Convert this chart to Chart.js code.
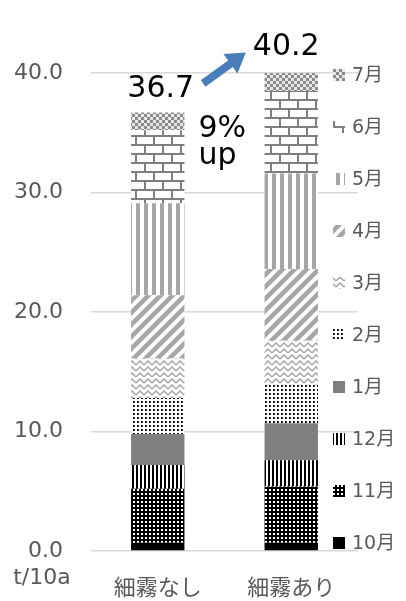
<!DOCTYPE html>
<html>
<head>
<meta charset="utf-8">
<script src="https://cdn.jsdelivr.net/npm/chart.js@4/dist/chart.umd.min.js"></script>
<style>
  html, body { margin: 0; padding: 0; background: #ffffff; }
  canvas { display: block; }
</style>
</head>
<body>
<canvas id="c" width="406" height="601"></canvas>
<script>
// Yield per month (t/10a), without / with fine mist
const categories = ['細霧なし', '細霧あり'];
const months = ['10月', '11月', '12月', '1月', '2月', '3月', '4月', '5月', '6月', '7月'];
const oct = [0.7, 0.7];
const nov = [4.5, 4.7];
const dec = [2.0, 2.2];
const jan = [2.6, 3.1];
const feb = [3.0, 3.2];
const mar = [3.3, 3.7];
const apr = [5.3, 6.0];
const may = [7.7, 8.0];
const jun = [6.1, 6.9];
const jul = [1.5, 1.7];
const yTicks = [0, 10, 20, 30, 40];
const unitLabel = 't/10a';
const gainText = ['9%', 'up'];

const series = [oct, nov, dec, jan, feb, mar, apr, may, jun, jul];

const FONT = "'DejaVu Sans', 'Noto Sans CJK JP', sans-serif";
const TEXT_GREY = '#595959';

const canvas = document.getElementById('c');
const ctx = canvas.getContext('2d');

// ---- fill patterns ----
function tile(w, h, draw) {
  const c = document.createElement('canvas');
  c.width = w; c.height = h;
  const g = c.getContext('2d');
  g.fillStyle = '#ffffff';
  g.fillRect(0, 0, w, h);
  draw(g, w, h);
  return ctx.createPattern(c, 'repeat');
}

const fills = [
  // 10月 solid black
  '#000000',
  // 11月 black with white dots
  tile(4, 4, (g) => { g.fillStyle = '#000'; g.fillRect(0, 0, 4, 4); g.fillStyle = '#fff'; g.fillRect(1, 1, 2, 2); }),
  // 12月 dark vertical lines
  tile(4, 4, (g) => { g.fillStyle = '#000'; g.fillRect(0, 0, 2, 4); }),
  // 1月 solid grey
  '#7F7F7F',
  // 2月 black dots on white
  tile(4, 4, (g) => { g.fillStyle = '#000'; g.fillRect(1, 1, 1, 2); g.fillStyle = '#333'; g.fillRect(2, 1, 1, 2); }),
  // 3月 zig-zag
  tile(8, 6, (g) => {
    g.strokeStyle = '#A6A6A6'; g.lineWidth = 1.5;
    g.beginPath(); g.moveTo(0, 5); g.lineTo(4, 1); g.lineTo(8, 5); g.stroke();
  }),
  // 4月 wide upward diagonal
  tile(12, 12, (g) => {
    g.strokeStyle = '#A6A6A6'; g.lineWidth = 4.5;
    for (const o of [-12, 0, 12]) {
      g.beginPath(); g.moveTo(o - 2, 14); g.lineTo(o + 14, -2); g.stroke();
    }
  }),
  // 5月 wide vertical stripes
  tile(8, 4, (g) => { g.fillStyle = '#A6A6A6'; g.fillRect(0, 0, 4, 4); }),
  // 6月 horizontal brick
  tile(18, 18, (g) => {
    g.fillStyle = '#7F7F7F';
    g.fillRect(0, 0, 18, 2);
    g.fillRect(0, 9, 18, 2);
    g.fillRect(0, 0, 2, 9);
    g.fillRect(9, 9, 2, 9);
  }),
  // 7月 small checkerboard
  tile(6, 6, (g) => {
    g.fillStyle = '#E6E6E6'; g.fillRect(0, 0, 6, 6);
    g.fillStyle = '#8C8C8C'; g.fillRect(0, 0, 3, 3); g.fillRect(3, 3, 3, 3);
  })
];

const sumOf = (i) => series.reduce((s, arr) => s + arr[i], 0);

// ---- legend on the right, last month at the top ----
const sideLegend = {
  id: 'sideLegend',
  afterDatasetsDraw(chart) {
    const { ctx, chartArea } = chart;
    const n = months.length;
    const topY = chartArea.top + 2;
    const botY = chartArea.bottom - 8;
    const step = (botY - topY) / (n - 1);
    ctx.save();
    ctx.font = '19px ' + FONT;
    ctx.fillStyle = TEXT_GREY;
    ctx.textBaseline = 'middle';
    ctx.textAlign = 'left';
    for (let k = 0; k < n; k++) {
      const i = n - 1 - k;
      const y = topY + k * step;
      ctx.fillStyle = fills[i];
      ctx.fillRect(333, y - 6, 12, 12);
      ctx.fillStyle = TEXT_GREY;
      ctx.fillText(months[i], 352, y + 1);
    }
    ctx.restore();
  }
};

// ---- totals, gain note, arrow, unit ----
const notes = {
  id: 'notes',
  afterDatasetsDraw(chart) {
    const { ctx, scales } = chart;
    const topMeta = chart.getDatasetMeta(series.length - 1);
    const b0 = topMeta.data[0];
    const b1 = topMeta.data[1];
    const t0 = sumOf(0), t1 = sumOf(1);
    const y0 = scales.y.getPixelForValue(t0);
    const y1 = scales.y.getPixelForValue(t1);

    ctx.save();
    ctx.fillStyle = '#000000';
    ctx.font = '30px ' + FONT;
    ctx.textAlign = 'center';
    ctx.textBaseline = 'alphabetic';
    const l0x = b0.x + 3, l0y = y0 - 15;
    const l1x = b1.x - 5, l1y = y1 - 16;
    ctx.fillText(t0.toFixed(1), l0x, l0y);
    ctx.fillText(t1.toFixed(1), l1x, l1y);

    ctx.textAlign = 'left';
    const gx = b0.x + b0.width / 2 + 14;
    ctx.fillText(gainText[0], gx, l0y + 40);
    ctx.fillText(gainText[1], gx, l0y + 67);

    // arrow between the two totals
    const w0 = ctx.measureText(t0.toFixed(1)).width;
    const w1 = ctx.measureText(t1.toFixed(1)).width;
    const ax = l0x + w0 / 2 + 9, ay = l0y - 14;
    const bx = l1x - w1 / 2 - 7, by = l1y - 2;
    const ang = Math.atan2(by - ay, bx - ax);
    const headLen = 19, headW = 12;
    const hx = bx - headLen * Math.cos(ang), hy = by - headLen * Math.sin(ang);
    ctx.strokeStyle = '#4A7EBB';
    ctx.fillStyle = '#4A7EBB';
    ctx.lineWidth = 8;
    ctx.beginPath(); ctx.moveTo(ax, ay); ctx.lineTo(hx + 2 * Math.cos(ang), hy + 2 * Math.sin(ang)); ctx.stroke();
    ctx.beginPath();
    ctx.moveTo(bx, by);
    ctx.lineTo(hx + headW * Math.sin(ang), hy - headW * Math.cos(ang));
    ctx.lineTo(hx - headW * Math.sin(ang), hy + headW * Math.cos(ang));
    ctx.closePath(); ctx.fill();

    // unit under the value axis
    ctx.fillStyle = TEXT_GREY;
    ctx.font = '22px ' + FONT;
    ctx.textAlign = 'center';
    ctx.textBaseline = 'middle';
    ctx.fillText(unitLabel, 42, scales.y.getPixelForValue(0) + 27);
    ctx.restore();
  }
};

new Chart(ctx, {
  type: 'bar',
  data: {
    labels: categories,
    datasets: series.map((arr, i) => ({
      label: months[i],
      data: arr,
      backgroundColor: fills[i],
      borderWidth: 0,
      barPercentage: 0.4,
      categoryPercentage: 1.0
    }))
  },
  options: {
    responsive: false,
    animation: false,
    devicePixelRatio: 1,
    layout: { padding: { top: 73, right: 48, bottom: 0, left: 0 } },
    plugins: { legend: { display: false }, tooltip: { enabled: false } },
    scales: {
      x: {
        stacked: true,
        grid: { display: false },
        border: { display: false },
        ticks: { color: TEXT_GREY, font: { family: FONT, size: 22 }, padding: 17 },
        afterFit(a) { a.height = 50; }
      },
      y: {
        stacked: true,
        min: 0,
        max: 40,
        afterBuildTicks(a) { a.ticks = yTicks.map(v => ({ value: v })); },
        ticks: { color: TEXT_GREY, font: { family: FONT, size: 22 }, padding: 28, callback: v => v.toFixed(1) },
        grid: { color: '#D9D9D9', lineWidth: 1.5, drawTicks: false },
        border: { display: false },
        afterFit(a) { a.width = 91; }
      }
    }
  },
  plugins: [sideLegend, notes]
});
</script>
</body>
</html>
